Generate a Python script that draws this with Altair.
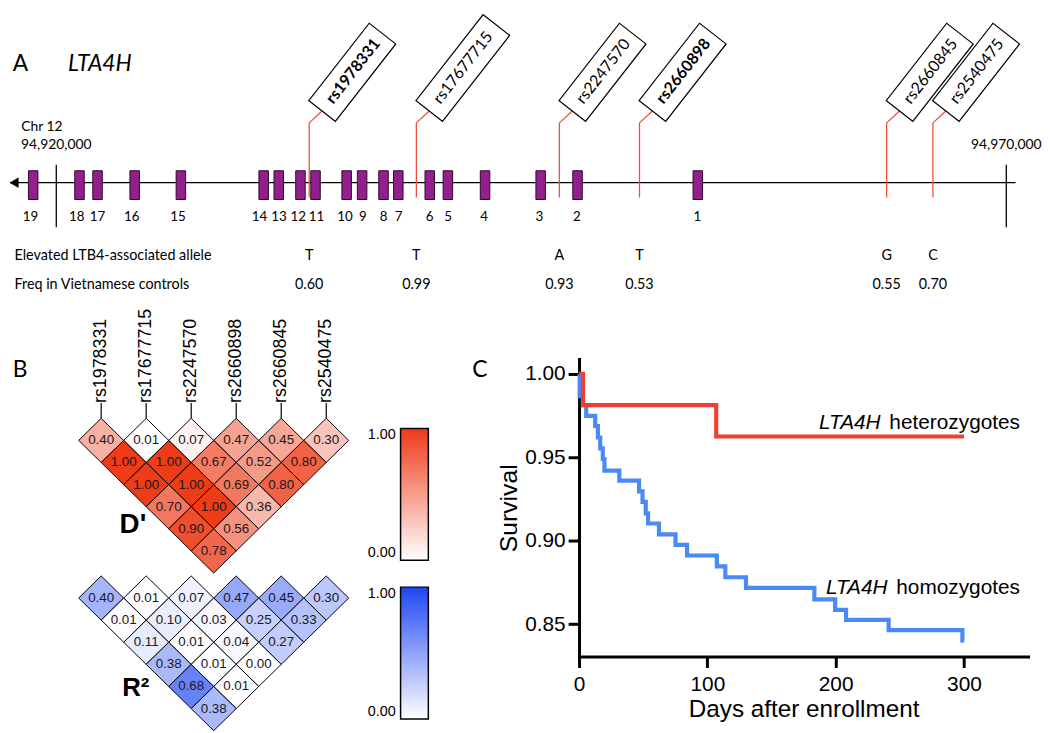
import altair as alt
import pandas as pd

# ====================== data ======================
# Panel A: LTA4H gene model (chr12 bp)
exon_number = list(range(1, 20))
exon_center_bp = [94953763, 94947434, 94945493, 94942566, 94940609, 94939655,
                  94938001, 94937223, 94936096, 94935282, 94933644, 94932851,
                  94931708, 94930915, 94926558, 94924127, 94922171, 94921221,
                  94918784]
exon_label_bp = [94953742, 94947398, 94945425, 94942514, 94940625, 94939655,
                 94938016, 94937223, 94936133, 94935199, 94933696, 94932731,
                 94931724, 94930701, 94926402, 94923971, 94922171, 94921080,
                 94918643]
region_bp = [94917563, 94970485]
coord_tick_bp = [94920000, 94970000]
coord_tick_label = ["94,920,000", "94,970,000"]

snp_id = ["rs1978331", "rs17677715", "rs2247570", "rs2660898", "rs2660845", "rs2540475"]
snp_bp = [94933310, 94938950, 94946479, 94950695, 94963702, 94966139]
snp_bold = [True, False, False, True, False, False]
snp_allele = ["T", "T", "A", "T", "G", "C"]
snp_freq = [0.60, 0.99, 0.93, 0.53, 0.55, 0.70]
row_label = ["Elevated LTB4-associated allele", "Freq in Vietnamese controls"]

# Panel B: LD triangles
ld_snps = ["rs1978331", "rs17677715", "rs2247570", "rs2660898", "rs2660845", "rs2540475"]
dprime_rows = [
    [0.40, 0.01, 0.07, 0.47, 0.45, 0.30],
    [1.00, 1.00, 0.67, 0.52, 0.80],
    [1.00, 1.00, 0.69, 0.80],
    [0.70, 1.00, 0.36],
    [0.90, 0.56],
    [0.78],
]
r2_rows = [
    [0.40, 0.01, 0.07, 0.47, 0.45, 0.30],
    [0.01, 0.10, 0.03, 0.25, 0.33],
    [0.11, 0.01, 0.04, 0.27],
    [0.38, 0.01, 0.00],
    [0.68, 0.01],
    [0.38],
]

# Panel C: Kaplan-Meier curves
het_day = [0, 3.1, 106.9, 300]
het_surv = [1.000, 0.9812, 0.9624, 0.9624]
hom_day = [0, 0.5, 3.0, 5.6, 12.6, 14.7, 16.5, 18.5, 19.8, 31.4, 46.8, 49.5, 52.0,
           53.8, 62.3, 75.2, 84.2, 107.4, 114.0, 130.1, 183.4, 199.6, 208.1, 241.3,
           298.8, 300]
hom_surv = [1.000, 0.9865, 0.9812, 0.9747, 0.9687, 0.9618, 0.9553, 0.9489, 0.9420,
            0.9360, 0.9295, 0.9232, 0.9163, 0.9103, 0.9038, 0.8975, 0.8911, 0.8846,
            0.8781, 0.8717, 0.8648, 0.8585, 0.8526, 0.8464, 0.8401, 0.8401]
curve_gene = ["LTA4H", "LTA4H"]
curve_group = ["heterozygotes", "homozygotes"]
curve_label_day = [187.0, 192.4]
curve_label_surv = [0.9668, 0.8682]

# ====================== styles ======================
FA = "Lato"
FB = "Liberation Sans"
PURPLE = "#921f8c"
SNP_RED = "#f0503a"
RED = "#ef3e33"
BLUE = "#4a8af4"

# ====================== Panel A ======================
A_W, A_H = 1034, 300
xA = alt.Scale(domain=[94917511, 94971461], nice=False, zero=False)
yA = alt.Scale(domain=[0, A_H], reverse=True, nice=False, zero=False)
Y_LINE, EX_T, EX_B = 173, 161, 190
TK_T, TK_B = 155, 218
SNP_T, SNP_B = 112.7, 188
EX_LAB = 208
ROW_Y = [246.6, 276.0]


def yd(v):
    return alt.YDatum(v, type="quantitative", scale=yA, axis=None)


def xfa(f):
    return alt.X(f, type="quantitative", scale=xA, axis=None)


region_df = pd.DataFrame({"start": [region_bp[0]], "end": [region_bp[1]]})
exon_df = pd.DataFrame({"exon": exon_number, "center": exon_center_bp,
                        "labpos": exon_label_bp})
coord_df = pd.DataFrame({"bp": coord_tick_bp, "label": coord_tick_label})
snp_df = pd.DataFrame({"snp": snp_id, "bp": snp_bp, "bold": snp_bold,
                       "allele": snp_allele, "freq": snp_freq})
rowlab_df = pd.DataFrame({"label": row_label, "lvl": ROW_Y})

gene_line = alt.Chart(region_df).mark_rule(color="black", strokeWidth=1.3).encode(
    x=xfa("start"), x2="end:Q", y=yd(Y_LINE))
arrow = alt.Chart(region_df).mark_point(
    shape="M0,0L2,-1.15L2,1.15Z", size=71, filled=True, fill="black",
    stroke="black", strokeWidth=0.5, opacity=1).encode(x=xfa("start"), y=yd(Y_LINE))
ticks = alt.Chart(coord_df).mark_rule(color="black", strokeWidth=1.3).encode(
    x=xfa("bp"), y=yd(TK_T), y2=alt.Y2Datum(TK_B))
coord_text = alt.Chart(coord_df).mark_text(font=FA, fontSize=14, align="center",
                                           baseline="middle", color="black").encode(
    x=xfa("bp"), y=yd(135.2), text="label:N")
chr_text = alt.Chart(coord_df.head(1)).mark_text(font=FA, fontSize=14, align="left",
                                                 baseline="middle", dx=-35.4,
                                                 color="black").encode(
    x=xfa("bp"), y=yd(116.6), text=alt.value("Chr 12"))
exons = alt.Chart(exon_df).transform_calculate(
    start="datum.center - 250", end="datum.center + 250"
).mark_rect(fill=PURPLE, stroke="#2a0a28", strokeWidth=1).encode(
    x=xfa("start"), x2="end:Q", y=yd(EX_T), y2=alt.Y2Datum(EX_B))
exon_text = alt.Chart(exon_df).mark_text(font=FA, fontSize=13.5, baseline="middle",
                                         color="black").encode(
    x=xfa("labpos"), y=yd(EX_LAB), text="exon:N")
snp_lines = alt.Chart(snp_df).mark_rule(color=SNP_RED, strokeWidth=1.3).encode(
    x=xfa("bp"), y=yd(SNP_T), y2=alt.Y2Datum(SNP_B))
snp_conn = alt.Chart(snp_df).mark_rule(color=SNP_RED, strokeWidth=1.3,
                                       x2Offset=13, y2Offset=-12).encode(
    x=xfa("bp"), x2="bp:Q", y=yd(SNP_T), y2=alt.Y2Datum(SNP_T))
boxes = alt.Chart(snp_df).transform_calculate(
    n="11*length(datum.snp)/17",
    path="'M0,-1L' + datum.n + ',-1L' + datum.n + ',1L0,1Z'"
).mark_point(filled=True, fill="white", fillOpacity=1, stroke="black",
             strokeWidth=1.2, opacity=1, size=1156, angle=308,
             xOffset=13, yOffset=-12).encode(
    x=xfa("bp"), y=yd(SNP_T),
    shape=alt.Shape("path:N", scale=None, legend=None))
box_text_b = alt.Chart(snp_df).transform_filter("datum.bold").mark_text(
    font=FA, fontSize=16, fontWeight="bold", angle=308, align="left",
    baseline="middle", dx=12, xOffset=13, yOffset=-12, color="black").encode(
    x=xfa("bp"), y=yd(SNP_T), text="snp:N")
box_text_r = alt.Chart(snp_df).transform_filter("!datum.bold").mark_text(
    font=FA, fontSize=16, angle=308, align="left",
    baseline="middle", dx=12, xOffset=13, yOffset=-12, color="black").encode(
    x=xfa("bp"), y=yd(SNP_T), text="snp:N")
allele_text = alt.Chart(snp_df).mark_text(font=FA, fontSize=14.5, baseline="middle",
                                          color="black").encode(
    x=xfa("bp"), y=yd(ROW_Y[0]), text="allele:N")
freq_text = alt.Chart(snp_df).mark_text(font=FA, fontSize=14.5, baseline="middle",
                                        color="black").encode(
    x=xfa("bp"), y=yd(ROW_Y[1]), text=alt.Text("freq:Q", format=".2f"))
row_text = alt.Chart(rowlab_df).mark_text(font=FA, fontSize=14.5, align="left",
                                          baseline="middle", dx=4.5,
                                          color="black").encode(
    x=alt.XDatum(region_bp[0], type="quantitative", scale=xA, axis=None),
    y=alt.Y("lvl:Q", scale=yA, axis=None), text="label:N")
a_letter = alt.Chart(region_df).mark_text(font=FA, fontSize=23, align="left",
                                          baseline="middle", dx=2.8,
                                          color="black").encode(
    x=xfa("start"), y=yd(53), text=alt.value("A"))
a_gene = alt.Chart(region_df).mark_text(font=FA, fontSize=23, fontStyle="italic",
                                        align="left", baseline="middle", dx=58.6,
                                        color="black").encode(
    x=xfa("start"), y=yd(53), text=alt.value("LTA4H"))

panelA = alt.layer(
    gene_line, arrow, ticks, exons, exon_text, snp_lines, snp_conn, boxes,
    box_text_b, box_text_r, allele_text, freq_text, row_text, coord_text,
    chr_text, a_letter, a_gene
).properties(width=A_W, height=A_H)

# ====================== Panel B ======================
B_W, B_H = 440, 366
xB = alt.Scale(domain=[-2.0485, 7.6432], nice=False, zero=False)
yB = alt.Scale(domain=[-3.677, 12.735], reverse=True, nice=False, zero=False)
R2_BASE = 7.13
DIAMOND = "M-1,0L0,-0.982L1,0L0,0.982Z"


def tri(rows, base):
    recs = []
    for r, row in enumerate(rows):
        for j, v in enumerate(row):
            recs.append({"cx": j + r / 2.0, "cy": r + base, "v": v})
    return pd.DataFrame(recs)


def xbd(v):
    return alt.XDatum(v, type="quantitative", scale=xB, axis=None)


def ybd(v):
    return alt.YDatum(v, type="quantitative", scale=yB, axis=None)


def grad_legend(ly):
    return alt.Legend(orient="none", legendX=395, legendY=ly, direction="vertical",
                      gradientLength=133, gradientThickness=28, values=[0, 1],
                      format=".2f", labelOffset={"expr": "-61"}, labelFontSize=14.5,
                      labelFont=FB, labelColor="black",
                      gradientStrokeColor="black", gradientStrokeWidth=1.5,
                      title=None)


d_df = tri(dprime_rows, 0.0)
r_df = tri(r2_rows, R2_BASE)


def ld_layers(df, color, ly):
    dia = alt.Chart(df).mark_point(shape=DIAMOND, size=2061, filled=True,
                                   stroke="black", strokeWidth=1, opacity=1).encode(
        x=alt.X("cx:Q", scale=xB, axis=None),
        y=alt.Y("cy:Q", scale=yB, axis=None),
        fill=alt.Fill("v:Q", scale=alt.Scale(domain=[0, 1], range=["#ffffff", color],
                                             interpolate="rgb"),
                      legend=grad_legend(ly)))
    txt = alt.Chart(df).mark_text(font=FB, fontSize=13.5, color="#1a1a1a",
                                  baseline="middle").encode(
        x=alt.X("cx:Q", scale=xB, axis=None),
        y=alt.Y("cy:Q", scale=yB, axis=None),
        text=alt.Text("v:Q", format=".2f"))
    return dia, txt


dia_d, txt_d = ld_layers(d_df, "#ee3b18", 70)
dia_r, txt_r = ld_layers(r_df, "#1f46f2", 230)

snpB_df = pd.DataFrame({"snp": ld_snps, "cx": list(range(len(ld_snps)))})
snp_lab = alt.Chart(snpB_df).mark_text(font=FB, fontSize=18, angle=270, align="left",
                                       baseline="middle", color="black").encode(
    x=alt.X("cx:Q", scale=xB, axis=None), y=ybd(-1.69), text="snp:N")
snp_tick = alt.Chart(snpB_df).mark_rule(color="black", strokeWidth=1.2).encode(
    x=alt.X("cx:Q", scale=xB, axis=None), y=ybd(-1.69), y2=alt.Y2Datum(-1.0))
b_letter = alt.Chart(snpB_df.head(1)).mark_text(font=FA, fontSize=23, align="left",
                                                baseline="middle", color="black").encode(
    x=xbd(-1.967), y=ybd(-3.18), text=alt.value("B"))
d_lab = alt.Chart(snpB_df.head(1)).mark_text(font=FB, fontSize=28, fontWeight="bold",
                                             baseline="middle", color="black").encode(
    x=xbd(0.705), y=ybd(3.81), text=alt.value("D'"))
r_lab = alt.Chart(snpB_df.head(1)).mark_text(font=FB, fontSize=26, fontWeight="bold",
                                             baseline="middle", color="black").encode(
    x=xbd(0.77), y=ybd(11.21), text=alt.value("R\u00b2"))

panelB = alt.layer(
    snp_tick, snp_lab, dia_d, txt_d, dia_r, txt_r, b_letter, d_lab, r_lab
).resolve_scale(fill="independent").properties(width=B_W, height=B_H)

# ====================== Panel C ======================
C_W, C_H = 453, 300
xC = alt.Scale(domain=[0, 350], nice=False, zero=False)
yC = alt.Scale(domain=[0.8306, 1.00875], nice=False, zero=False)

x_axis = alt.Axis(values=[0, 100, 200, 300], title="Days after enrollment", grid=False,
                  domainColor="black", domainWidth=3, domainCap="square",
                  tickColor="black", tickWidth=3, tickSize=11,
                  labelFont=FB, labelFontSize=21, labelColor="black", labelPadding=6,
                  labelFlush=False, titleFont=FB, titleFontSize=24.5,
                  titleFontWeight="normal", titleColor="black", titlePadding=3)
y_axis = alt.Axis(values=[0.85, 0.90, 0.95, 1.00], format=".2f", title="Survival",
                  grid=False, domainColor="black", domainWidth=3, domainCap="square",
                  tickColor="black", tickWidth=3, tickSize=11,
                  labelFont=FB, labelFontSize=21, labelColor="black", labelPadding=3,
                  labelFlush=False, titleFont=FB, titleFontSize=25,
                  titleFontWeight="normal", titleColor="black", titlePadding=3)

hom_df = pd.DataFrame({"day": hom_day, "surv": hom_surv})
het_df = pd.DataFrame({"day": het_day, "surv": het_surv})
ann_df = pd.DataFrame({"gene": curve_gene, "group": curve_group,
                       "day": curve_label_day, "surv": curve_label_surv})

hom_line = alt.Chart(hom_df).mark_line(interpolate="step-after", color=BLUE,
                                       strokeWidth=4.2).encode(
    x=alt.X("day:Q", scale=xC, axis=x_axis),
    y=alt.Y("surv:Q", scale=yC, axis=y_axis))
het_line = alt.Chart(het_df).mark_line(interpolate="step-after", color=RED,
                                       strokeWidth=4.2).encode(
    x=alt.X("day:Q", scale=xC), y=alt.Y("surv:Q", scale=yC))
ann_it = alt.Chart(ann_df).mark_text(font=FB, fontSize=21, fontStyle="italic",
                                     align="left", baseline="alphabetic",
                                     color="black").encode(
    x=alt.X("day:Q", scale=xC), y=alt.Y("surv:Q", scale=yC), text="gene:N")
ann_rg = alt.Chart(ann_df).mark_text(font=FB, fontSize=21, align="left",
                                     baseline="alphabetic", dx=71,
                                     color="black").encode(
    x=alt.X("day:Q", scale=xC), y=alt.Y("surv:Q", scale=yC), text="group:N")
c_letter = alt.Chart(ann_df.head(1)).mark_text(font=FA, fontSize=23,
                                               baseline="middle", color="black").encode(
    x=alt.XDatum(-77.3, type="quantitative", scale=xC),
    y=alt.YDatum(1.0024, type="quantitative", scale=yC), text=alt.value("C"))

panelC = alt.layer(hom_line, het_line, ann_it, ann_rg, c_letter).properties(
    width=C_W, height=C_H)

# ====================== assemble ======================
bottom = alt.hconcat(panelB, panelC, spacing=135, bounds="flush").resolve_scale(
    fill="independent", x="independent", y="independent")
chart = alt.vconcat(panelA, bottom, spacing=51, bounds="flush").resolve_scale(
    fill="independent", x="independent", y="independent"
).properties(padding=0).configure(font=FB).configure_view(strokeWidth=0)

chart.save("out.html", embed_options={"renderer": "svg", "actions": False})
